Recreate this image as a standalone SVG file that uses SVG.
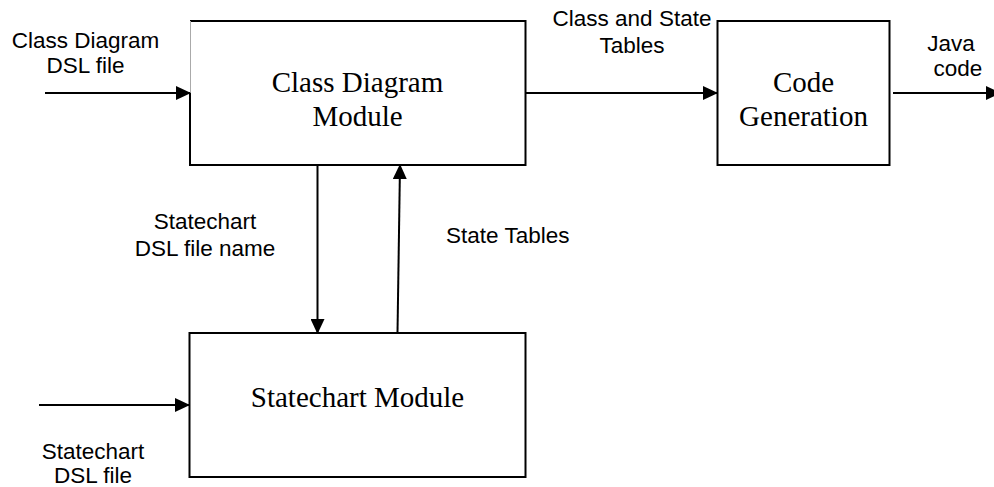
<svg xmlns="http://www.w3.org/2000/svg" width="994" height="487" viewBox="0 0 994 487">
<style>
.box{fill:#fff;stroke:#000;stroke-width:2}
.serif{font-family:"Liberation Serif","Times New Roman",serif;font-size:29px;fill:#000;text-anchor:middle}
.sans{font-family:"Liberation Sans",Arial,sans-serif;font-size:22.5px;fill:#000;text-anchor:middle}
.conn{stroke:#000;stroke-width:2;fill:none;marker-end:url(#arr)}
</style>
<defs>
<marker id="arr" markerUnits="userSpaceOnUse" markerWidth="15" markerHeight="14" refX="14" refY="7" orient="auto">
<path d="M0,0 L15,7 L0,14 z" fill="#000"/>
</marker>
</defs>
<rect width="994" height="487" fill="#fff"/>
<g id="class-diagram-module">
<path d="M190,93 V165 H525.5 V21 H190" class="box"/>
<line x1="190.5" y1="21" x2="190.5" y2="93" stroke="#aaa" stroke-width="1"/>
<text class="serif" x="357.5" y="92">Class Diagram</text>
<text class="serif" x="357.5" y="126">Module</text>
</g>
<g id="code-generation">
<rect x="717.5" y="21" width="172" height="144" class="box"/>
<text class="serif" x="803.5" y="92">Code</text>
<text class="serif" x="803.5" y="126">Generation</text>
</g>
<g id="statechart-module">
<rect x="189.5" y="333" width="336" height="144" class="box"/>
<text class="serif" x="357.5" y="407">Statechart Module</text>
</g>
<g id="connectors">
<line x1="45" y1="93" x2="190" y2="93" class="conn"/>
<line x1="526" y1="93" x2="717" y2="93" class="conn"/>
<line x1="893" y1="93" x2="1000" y2="93" class="conn"/>
<line x1="317.5" y1="165" x2="317.5" y2="333" class="conn"/>
<line x1="397.5" y1="333" x2="400" y2="165" class="conn"/>
<line x1="39" y1="405" x2="189" y2="405" class="conn"/>
</g>
<g id="labels">
<text class="sans" x="85.5" y="48">Class Diagram</text>
<text class="sans" x="85.5" y="73">DSL file</text>
<text class="sans" x="632" y="26">Class and State</text>
<text class="sans" x="632" y="52.5">Tables</text>
<text class="sans" x="951" y="50.5">Java</text>
<text class="sans" x="958" y="76">code</text>
<text class="sans" x="205" y="229">Statechart</text>
<text class="sans" x="205" y="256">DSL file name</text>
<text class="sans" x="446" y="243" style="text-anchor:start">State Tables</text>
<text class="sans" x="93" y="458.5">Statechart</text>
<text class="sans" x="93" y="483">DSL file</text>
</g>
</svg>
